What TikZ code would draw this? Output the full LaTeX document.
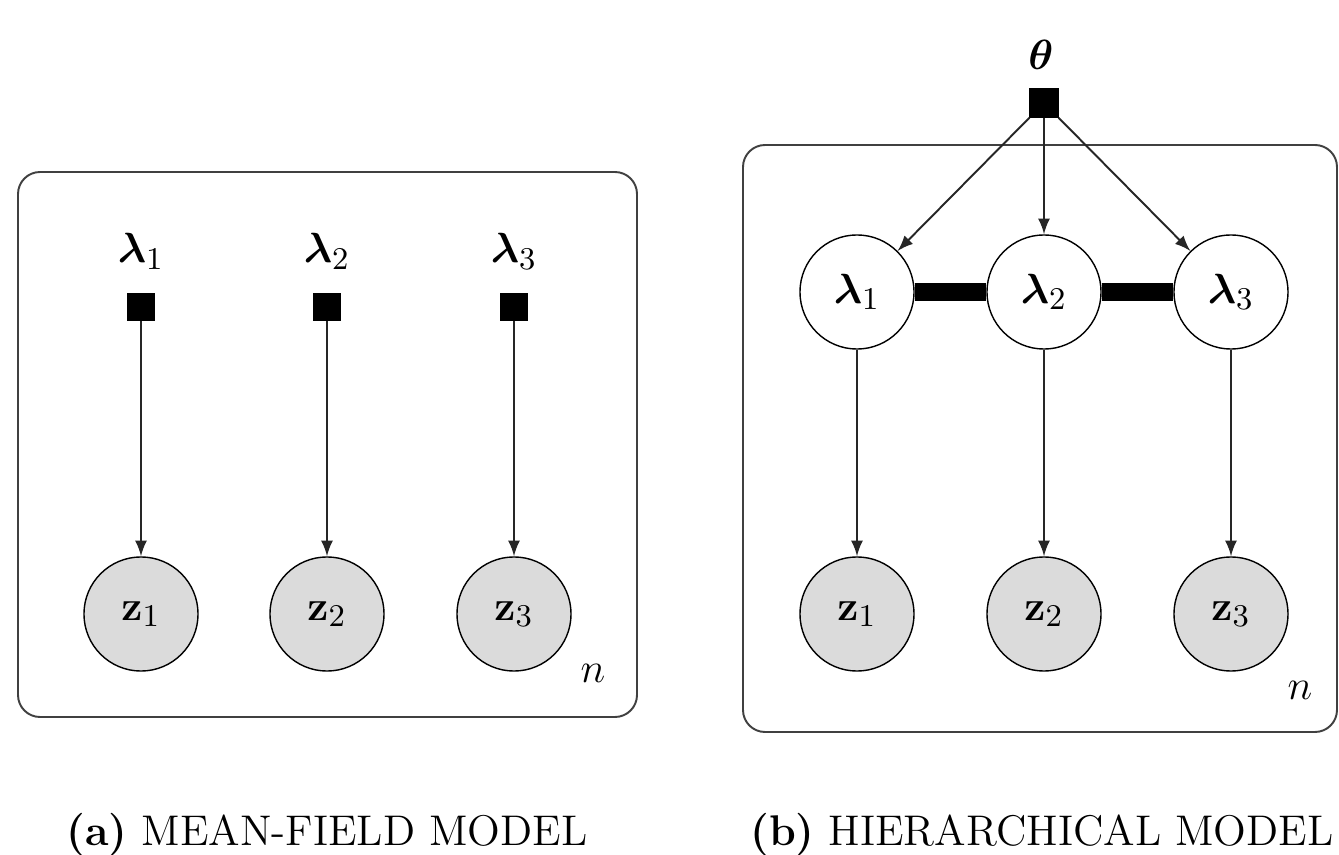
\documentclass[tikz,border=0pt]{standalone}
\usepackage{amsmath,amsfonts,amssymb,bm}
\usepackage{tikz}
\usetikzlibrary{arrows}

\begin{document}
\begin{tikzpicture}[x=0.01cm,y=-0.01cm,
  every node/.style={font=\fontsize{13}{15}\selectfont},
  latent/.style={draw, circle, minimum size=1.14cm, inner sep=0pt, fill=white},
  obs/.style={latent, fill=black!14},
  factor/.style={draw, fill=black, rectangle, minimum size=0.27cm, inner sep=0pt},
  plate/.style={draw=black!75, line width=0.55pt, rounded corners=0.22cm},
  edge/.style={-latex, black!85, line width=0.55pt},
  caption/.style={font=\fontsize{12.2}{15}\selectfont, inner sep=0pt}]
\useasboundingbox (0,0) rectangle (1339,855);

% (a) plates
\draw[plate] (18,172) rectangle (637,717);
\node (na) at (593,673) {$n$};

% (a) nodes
\node[factor] (fa1) at (141,307) {};
\node[factor] (fa2) at (327,307) {};
\node[factor] (fa3) at (514,307) {};
\node[anchor=base] (la1) at (141,263) {$\bm{\lambda}_1$};
\node[anchor=base] (la2) at (327,263) {$\bm{\lambda}_2$};
\node[anchor=base] (la3) at (514,263) {$\bm{\lambda}_3$};
\node[obs] (za1) at (141,614) {$\mathbf{z}_1$};
\node[obs] (za2) at (327,614) {$\mathbf{z}_2$};
\node[obs] (za3) at (514,614) {$\mathbf{z}_3$};

% (a) edges
\draw[edge] (fa1) -- (za1);
\draw[edge] (fa2) -- (za2);
\draw[edge] (fa3) -- (za3);

% (b) plates
\draw[plate] (743,145) rectangle (1337,732);
\node (nb) at (1300,690) {$n$};

% (b) nodes
\node[factor, minimum size=0.28cm] (fth) at (1044,103) {};
\node[anchor=base] (th) at (1041,70) {$\bm{\theta}$};
\node[latent] (lb1) at (857,292) {$\bm{\lambda}_1$};
\node[latent] (lb2) at (1044,292) {$\bm{\lambda}_2$};
\node[latent] (lb3) at (1231,292) {$\bm{\lambda}_3$};
\node[obs] (zb1) at (857,614) {$\mathbf{z}_1$};
\node[obs] (zb2) at (1044,614) {$\mathbf{z}_2$};
\node[obs] (zb3) at (1231,614) {$\mathbf{z}_3$};

% (b) edges, thick ones for the coupling
\draw[edge] (fth) -- (lb1);
\draw[edge] (fth) -- (lb2);
\draw[edge] (fth) -- (lb3);
\draw[line width=0.17cm] (lb1) -- (lb2);
\draw[line width=0.17cm] (lb2) -- (lb3);
\draw[edge] (lb1) -- (zb1);
\draw[edge] (lb2) -- (zb2);
\draw[edge] (lb3) -- (zb3);

% captions
\node[caption, anchor=base] (capa) at (327,845) {\textbf{(a)} MEAN-FIELD MODEL};
\node[caption, anchor=base east] (capb) at (1334,845) {\textbf{(b)} HIERARCHICAL MODEL};
\end{tikzpicture}
\end{document}
